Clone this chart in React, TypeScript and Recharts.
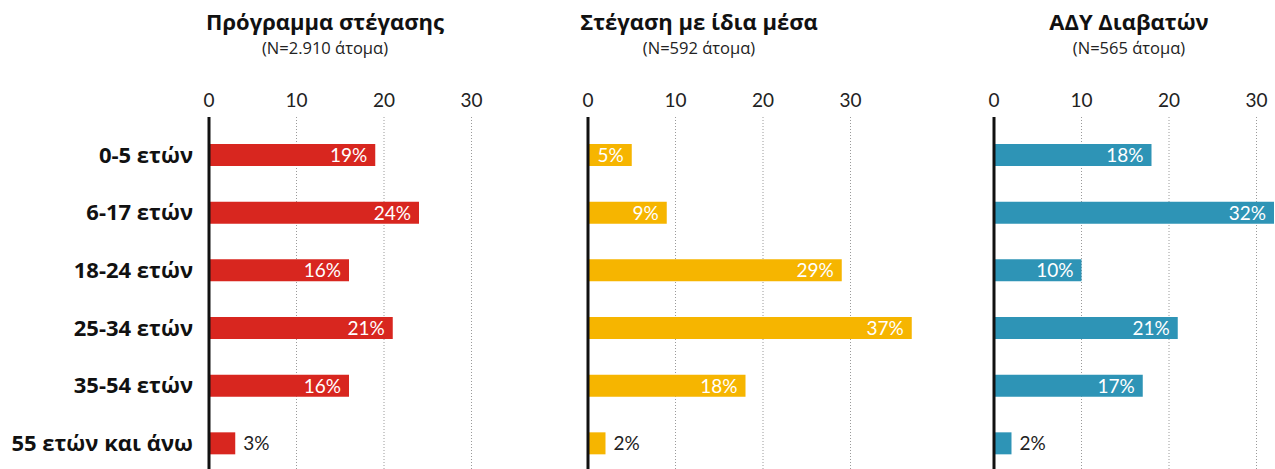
import React from "react";
import {
  BarChart, Bar, XAxis, YAxis, CartesianGrid, LabelList,
} from "recharts";

const NUM_FONT = "Lato, 'Open Sans', sans-serif";
const TEXT_FONT = "'Open Sans', Lato, sans-serif";

const AGE_GROUPS = ["0-5 ετών", "6-17 ετών", "18-24 ετών", "25-34 ετών", "35-54 ετών", "55 ετών και άνω"];
const HOUSING_PROGRAM = [19, 24, 16, 21, 16, 3];
const OWN_MEANS = [5, 9, 29, 37, 18, 2];
const PASSPORT_OFFICE = [18, 32, 10, 21, 17, 2];
const X_TICKS = [0, 10, 20, 30];

const PANELS = [
  { key: "program", title: "Πρόγραμμα στέγασης", sub: "(N=2.910 άτομα)", color: "#d8261f", values: HOUSING_PROGRAM },
  { key: "own", title: "Στέγαση με ίδια μέσα", sub: "(N=592 άτομα)", color: "#f6b500", values: OWN_MEANS },
  { key: "adu", title: "ΑΔΥ Διαβατών", sub: "(N=565 άτομα)", color: "#2e94b6", values: PASSPORT_OFFICE },
];

// chart placement on the page
const LAYOUT = [
  { left: 0, yWidth: 209, titleX: 325 },
  { left: 560, yWidth: 28, titleX: 699 },
  { left: 960, yWidth: 34, titleX: 1129 },
];

const PX_PER_UNIT = 8.75;
const DOMAIN_MAX = 40;

function BarLabel(props: any) {
  const { x, y, width, height, value } = props;
  const inside = value >= 5;
  const tx = inside ? x + width - 8 : x + width + 8;
  return (
    <text
      x={tx}
      y={y + height / 2}
      dy="0.36em"
      textAnchor={inside ? "end" : "start"}
      fill={inside ? "#fff" : "#222"}
      fontSize={19}
      fontFamily={NUM_FONT}
    >
      {value}%
    </text>
  );
}

// grid only at the tick values, no edge lines
const gridX = ({ offset }: any) =>
  X_TICKS.map((t) => offset.left + (t / DOMAIN_MAX) * offset.width);

function Panel({ idx }: { idx: number }) {
  const p = PANELS[idx];
  const l = LAYOUT[idx];
  const data = AGE_GROUPS.map((cat, i) => ({ cat, v: p.values[i] }));
  const plotW = DOMAIN_MAX * PX_PER_UNIT;
  const width = l.yWidth + plotW + 10;
  const showLabels = idx === 0;

  return (
    <>
      <div
        style={{
          position: "absolute", left: l.titleX - 200, top: 6, width: 400,
          textAlign: "center", fontFamily: TEXT_FONT, color: "#111",
        }}
      >
        <div style={{ fontSize: 22, fontWeight: 700, lineHeight: "31px" }}>{p.title}</div>
        <div style={{ fontSize: 16.5, lineHeight: "21px", color: "#222" }}>{p.sub}</div>
      </div>
      <div style={{ position: "absolute", left: l.left, top: 0 }}>
        <BarChart
          width={width}
          height={472}
          data={data}
          layout="vertical"
          margin={{ top: 60, right: 10, bottom: 0, left: 0 }}
        >
          <CartesianGrid
            horizontal={false}
            stroke="#9a9a9a"
            strokeDasharray="1 2"
            verticalCoordinatesGenerator={gridX}
          />
          <XAxis
            type="number"
            orientation="top"
            domain={[0, DOMAIN_MAX]}
            ticks={X_TICKS}
            allowDataOverflow
            axisLine={false}
            tickLine={false}
            tickSize={0}
            tickMargin={10}
            height={57}
            tick={{ fontSize: 19, fill: "#222", fontFamily: NUM_FONT }}
          />
          <YAxis
            type="category"
            dataKey="cat"
            width={l.yWidth}
            padding={{ top: 9, bottom: 0 }}
            axisLine={{ stroke: "#111", strokeWidth: 3 }}
            tickLine={false}
            tickSize={0}
            tickMargin={16}
            tick={showLabels ? { fontSize: 22, fontWeight: 700, fill: "#111", fontFamily: TEXT_FONT } : false}
          />
          <Bar dataKey="v" fill={p.color} barSize={22} isAnimationActive={false}>
            <LabelList dataKey="v" content={BarLabel} />
          </Bar>
        </BarChart>
      </div>
    </>
  );
}

export default function App() {
  return (
    <div
      style={{
        position: "absolute", left: 0, top: 0, width: 1275, height: 469,
        overflow: "hidden", background: "#fff",
      }}
    >
      {PANELS.map((_, i) => <Panel key={i} idx={i} />)}
    </div>
  );
}
